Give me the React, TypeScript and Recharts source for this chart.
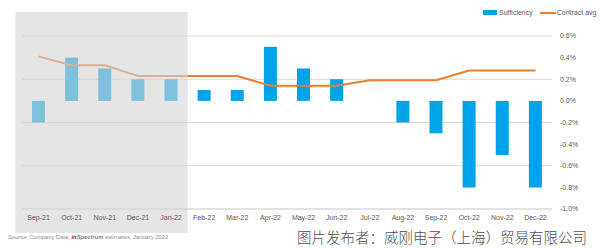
import React from 'react';
import { ComposedChart, Bar, Line, XAxis, YAxis, CartesianGrid, ReferenceArea, Cell } from 'recharts';

const months = ['Sep-21', 'Oct-21', 'Nov-21', 'Dec-21', 'Jan-22', 'Feb-22', 'Mar-22', 'Apr-22', 'May-22', 'Jun-22', 'Jul-22', 'Aug-22', 'Sep-22', 'Oct-22', 'Nov-22', 'Dec-22'];
const sufficiency = [-0.2, 0.4, 0.3, 0.2, 0.2, 0.1, 0.1, 0.5, 0.3, 0.2, 0.0, -0.2, -0.3, -0.8, -0.5, -0.8];
const contractAvg = [0.41, 0.33, 0.33, 0.23, 0.23, 0.23, 0.23, 0.14, 0.14, 0.14, 0.19, 0.19, 0.19, 0.28, 0.28, 0.28];
const yTicks = [-1.0, -0.8, -0.6, -0.4, -0.2, 0.0, 0.2, 0.4, 0.6];
const shadedStart = 'Sep-21';
const shadedEnd = 'Jan-22';

const data = months.map((m, i) => ({ month: m, sufficiency: sufficiency[i], contract: contractAvg[i] }));

const FONT = '"Liberation Sans", Arial, sans-serif';

const ShadeShape = (props: any) => {
  const { x, y, width, height } = props;
  return <rect x={x - 6.5} y={y} width={width + 6.5} height={height} fill="#d4d4d4" fillOpacity={0.6} />;
};

export default function App() {
  return (
    <div style={{ position: 'absolute', left: 0, top: 0, width: 600, height: 248, background: '#fff', fontFamily: FONT }}>
      <ComposedChart width={600} height={248} data={data} margin={{ top: 36, right: 0, bottom: 9, left: 22 }}>
        <CartesianGrid vertical={false} stroke="#d9d9d9" strokeWidth={1} />
        <XAxis
          dataKey="month"
          height={30}
          axisLine={{ stroke: '#d9d9d9' }}
          tickLine={false}
          tickMargin={0}
          interval={0}
          tick={{ fontSize: 7, fill: '#595959', fontFamily: FONT }}
        />
        <YAxis
          orientation="right"
          width={48}
          domain={[-1.0, 0.6]}
          ticks={yTicks}
          axisLine={false}
          tickLine={false}
          tickFormatter={(v: number) => `${v.toFixed(1)}%`}
          tick={{ fontSize: 7, fill: '#595959', fontFamily: FONT }}
        />
        <Bar dataKey="sufficiency" barSize={13} fill="#00a2e8" isAnimationActive={false}>
          {data.map((d) => (
            <Cell key={d.month} fill="#00a2e8" />
          ))}
        </Bar>
        <Line dataKey="contract" type="linear" stroke="#ed7d31" strokeWidth={2} dot={false} isAnimationActive={false} />
        <ReferenceArea
          x1={shadedStart}
          x2={shadedEnd}
          y1={-1.222}
          y2={0.822}
          ifOverflow="visible"
          shape={ShadeShape}
          zIndex={1500}
        />
      </ComposedChart>
      <div style={{ position: 'absolute', left: 483, top: 9, display: 'flex', alignItems: 'center', fontSize: 7, color: '#595959', whiteSpace: 'nowrap' }}>
        <span style={{ display: 'inline-block', width: 14, height: 5, background: '#00a2e8', marginRight: 2 }} />
        <span>Sufficiency</span>
        <span style={{ display: 'inline-block', width: 16, height: 2, background: '#ed7d31', marginLeft: 7, marginRight: 1 }} />
        <span>Contract avg</span>
      </div>
      <div style={{ position: 'absolute', left: 8, top: 234, fontSize: 5.8, color: '#8c8c8c', whiteSpace: 'nowrap' }}>
        Source: Company Data, <b style={{ fontStyle: 'italic', color: '#c00000' }}>in</b>
        <b style={{ fontStyle: 'italic', color: '#7f7f7f' }}>Spectrum</b> estimates, January 2022
      </div>
      <div style={{ position: 'absolute', left: 297, top: 226, fontSize: 14.5, fontWeight: 300, color: '#4d4d4d', whiteSpace: 'nowrap', fontFamily: '"Noto Sans CJK SC", sans-serif', letterSpacing: 0 }}>
        图片发布者：威刚电子（上海）贸易有限公司
      </div>
    </div>
  );
}
